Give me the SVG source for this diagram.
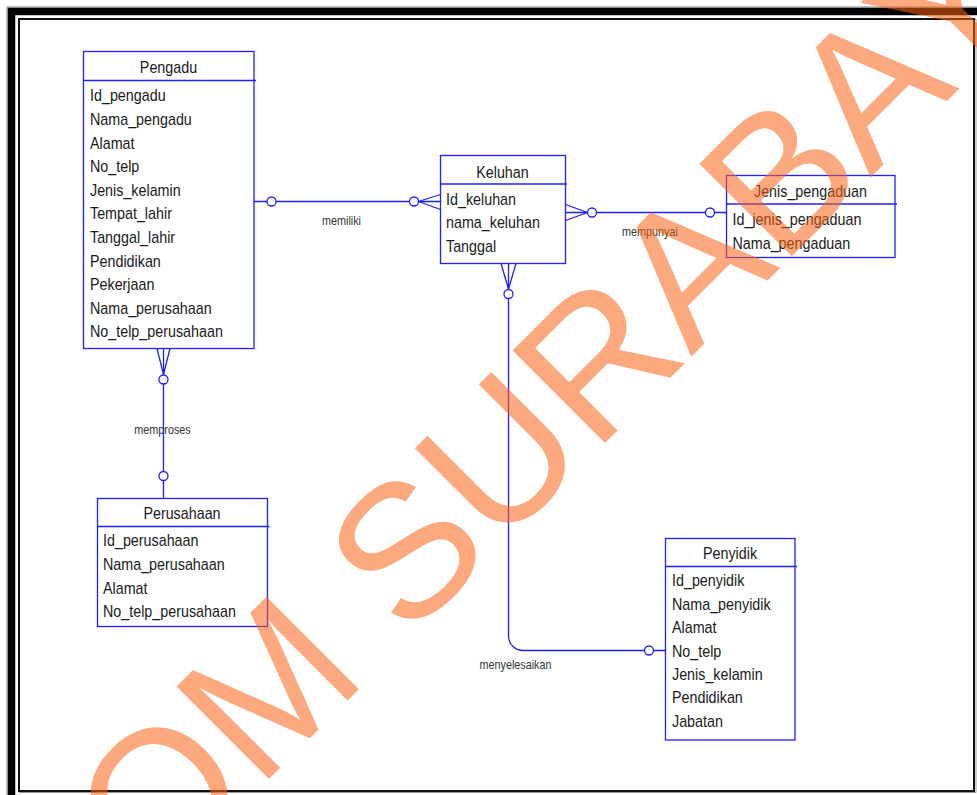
<svg xmlns="http://www.w3.org/2000/svg" width="977" height="795" viewBox="0 0 977 795">
<style>
.box{fill:#fff;stroke:#1f1fff;stroke-width:1.3}
.ln{fill:none;stroke:#1f1fff;stroke-width:1.3}
.ci{fill:#fff;stroke:#1f1fff;stroke-width:1.3}
.t{font-family:"Liberation Sans",Arial,sans-serif;font-size:16px;fill:#1a1a1a;transform-box:fill-box;transform-origin:0 50%;transform:scaleX(0.895)}
.h{font-family:"Liberation Sans",Arial,sans-serif;font-size:16px;fill:#1a1a1a;text-anchor:middle;transform-box:fill-box;transform-origin:50% 50%;transform:scaleX(0.895)}
.lb{font-family:"Liberation Sans",Arial,sans-serif;font-size:12px;fill:#333;text-anchor:middle;transform-box:fill-box;transform-origin:50% 50%;transform:scaleX(0.9)}
.wm{font-family:"Liberation Sans",Arial,sans-serif;font-size:190px;fill:#F96315;fill-opacity:0.55}
</style>
<rect width="977" height="795" fill="#fff"/>
<g id="frame">
<path d="M7,795 V7 H977" fill="none" stroke="#aaa" stroke-width="1.5"/>
<path d="M11.5,795 V11.5 H977" fill="none" stroke="#000" stroke-width="7.5"/>
<rect x="19" y="19" width="955" height="772" fill="none" stroke="#111" stroke-width="2"/>
<path d="M976,19 V792.5 H19" fill="none" stroke="#999" stroke-width="1"/>
</g>
<g id="connectors">
<line class="ln" x1="254" y1="201.5" x2="440.5" y2="201.5"/>
<line class="ln" x1="418.5" y1="201.5" x2="440.5" y2="194.5"/>
<line class="ln" x1="418.5" y1="201.5" x2="440.5" y2="209.5"/>
<circle class="ci" cx="271.5" cy="201.5" r="4.5"/>
<circle class="ci" cx="414" cy="201.5" r="4.5"/>
<line class="ln" x1="565.5" y1="212.5" x2="726.5" y2="212.5"/>
<line class="ln" x1="565.5" y1="204.5" x2="587.5" y2="212.5"/>
<line class="ln" x1="565.5" y1="220.5" x2="587.5" y2="212.5"/>
<circle class="ci" cx="592" cy="212.5" r="4.5"/>
<circle class="ci" cx="710" cy="212.5" r="4.5"/>
<line class="ln" x1="163.5" y1="348.5" x2="163.5" y2="498.5"/>
<line class="ln" x1="157" y1="348.5" x2="163.5" y2="374.5"/>
<line class="ln" x1="170" y1="348.5" x2="163.5" y2="374.5"/>
<circle class="ci" cx="163.5" cy="379.5" r="4.5"/>
<circle class="ci" cx="163.5" cy="476" r="4.5"/>
<path class="ln" d="M508.5,263.5 V636 A14.5,14.5 0 0 0 523,650.5 H665.5"/>
<line class="ln" x1="501" y1="263.5" x2="508.5" y2="289"/>
<line class="ln" x1="516" y1="263.5" x2="508.5" y2="289"/>
<circle class="ci" cx="508.5" cy="294" r="4.5"/>
<circle class="ci" cx="649" cy="650.5" r="4.5"/>
<text class="lb" x="341.5" y="225">memiliki</text>
<text class="lb" x="650" y="236">mempunyai</text>
<text class="lb" x="162.5" y="434">memproses</text>
<text class="lb" x="515.5" y="669">menyelesaikan</text>
</g>
<g id="Pengadu">
<rect class="box" x="83.5" y="51.5" width="170.5" height="297"/>
<line class="ln" x1="83.5" y1="80.5" x2="256" y2="80.5"/>
<text class="h" x="168.5" y="73.5">Pengadu</text>
<text class="t" x="90" y="101.5">Id_pengadu</text>
<text class="t" x="90" y="125.1">Nama_pengadu</text>
<text class="t" x="90" y="148.7">Alamat</text>
<text class="t" x="90" y="172.3">No_telp</text>
<text class="t" x="90" y="195.9">Jenis_kelamin</text>
<text class="t" x="90" y="219.5">Tempat_lahir</text>
<text class="t" x="90" y="243.1">Tanggal_lahir</text>
<text class="t" x="90" y="266.7">Pendidikan</text>
<text class="t" x="90" y="290.3">Pekerjaan</text>
<text class="t" x="90" y="313.9">Nama_perusahaan</text>
<text class="t" x="90" y="337.5">No_telp_perusahaan</text>
</g>
<g id="Keluhan">
<rect class="box" x="440.5" y="155.5" width="125" height="108"/>
<line class="ln" x1="440.5" y1="184" x2="567" y2="184"/>
<text class="h" x="502.5" y="178.5">Keluhan</text>
<text class="t" x="446" y="205">Id_keluhan</text>
<text class="t" x="446" y="228.5">nama_keluhan</text>
<text class="t" x="446" y="252">Tanggal</text>
</g>
<g id="Jenis_pengaduan">
<rect class="box" x="726.5" y="175.5" width="168.5" height="82"/>
<line class="ln" x1="726.5" y1="204" x2="897" y2="204"/>
<text class="h" x="810.5" y="197.5">Jenis_pengaduan</text>
<text class="t" x="732.5" y="225">Id_jenis_pengaduan</text>
<text class="t" x="732.5" y="249">Nama_pengaduan</text>
</g>
<g id="Perusahaan">
<rect class="box" x="97.5" y="498.5" width="170" height="128"/>
<line class="ln" x1="97.5" y1="526.5" x2="269.5" y2="526.5"/>
<text class="h" x="182" y="519.5">Perusahaan</text>
<text class="t" x="103" y="546.5">Id_perusahaan</text>
<text class="t" x="103" y="570.5">Nama_perusahaan</text>
<text class="t" x="103" y="594">Alamat</text>
<text class="t" x="103" y="617">No_telp_perusahaan</text>
</g>
<g id="Penyidik">
<rect class="box" x="665.5" y="538.5" width="129.5" height="201.5"/>
<line class="ln" x1="665.5" y1="566.5" x2="797" y2="566.5"/>
<text class="h" x="730" y="559.5">Penyidik</text>
<text class="t" x="672" y="586.5">Id_penyidik</text>
<text class="t" x="672" y="610">Nama_penyidik</text>
<text class="t" x="672" y="633.5">Alamat</text>
<text class="t" x="672" y="657">No_telp</text>
<text class="t" x="672" y="680">Jenis_kelamin</text>
<text class="t" x="672" y="703.5">Pendidikan</text>
<text class="t" x="672" y="727">Jabatan</text>
</g>
<g id="watermark">
<text class="wm" transform="translate(-145,1193) rotate(-45)">STIKOM SURABAYA</text>
</g>
</svg>
